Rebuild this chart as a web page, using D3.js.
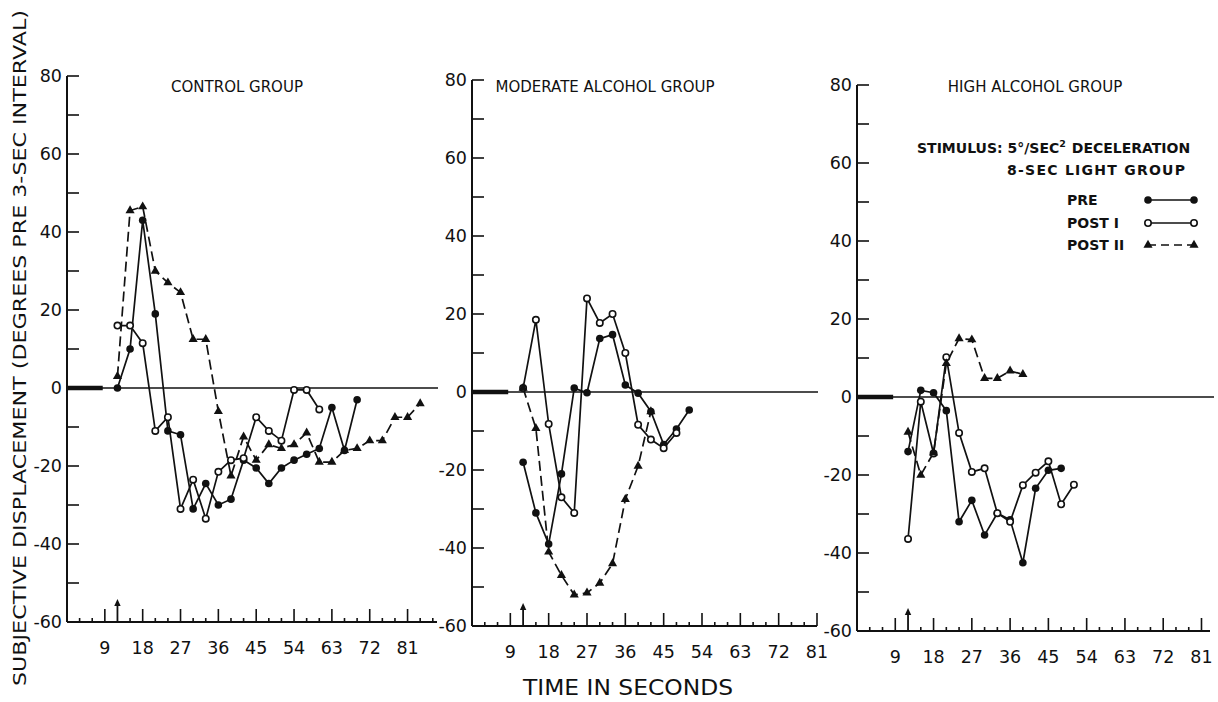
<!DOCTYPE html>
<html>
<head>
<meta charset="utf-8">
<script src="https://cdn.jsdelivr.net/npm/d3@7"></script>
<style>
  body { margin: 0; background: #fff; }
  svg { display: block; }
</style>
</head>
<body>
<svg id="chart" width="1218" height="702"></svg>
<script>
// ---- data -------------------------------------------------------------
const groupTitles = ["CONTROL GROUP", "MODERATE ALCOHOL GROUP", "HIGH ALCOHOL GROUP"];
const seriesNames = ["PRE", "POST I", "POST II"];
const timeTickLabels = [9, 18, 27, 36, 45, 54, 63, 72, 81];
const valueTickLabels = [-60, -40, -20, 0, 20, 40, 60, 80];
const stimulusOnset = 12;          // seconds, arrow on the time axis
const baselineEnd = 8.5;           // seconds of the pre-stimulus baseline
// sampling instants (3-sec intervals after onset)
const sampleTimes = [12, 15, 18, 21, 24, 27, 30, 33, 36, 39, 42, 45, 48, 51, 54,
                     57, 60, 63, 66, 69, 72, 75, 78, 81, 84];

// control group (degrees)
const controlPre   = [0, 10, 43, 19, -11, -12, -31, -24.5, -30, -28.5, -18.5, -20.5,
                      -24.5, -20.5, -18.5, -17, -15.5, -5, -16, -3];
const controlPost1 = [16, 16, 11.5, -11, -7.5, -31, -23.5, -33.5, -21.5, -18.5, -18,
                      -7.5, -11, -13.5, -0.5, -0.5, -5.5];
const controlPost2 = [3, 45.5, 46.5, 30, 27, 24.5, 12.5, 12.5, -6, -22.5, -12.5, -18.5,
                      -14.5, -15.5, -14.5, -11.5, -19, -19, -16, -15.5, -13.5, -13.5,
                      -7.5, -7.5, -4];

// moderate alcohol group
const moderatePre   = [-18, -31, -39, -21, 1, -0.2, 13.7, 14.7, 1.8, -0.3, -5, -13.5, -9.5, -4.6];
const moderatePost1 = [1, 18.5, -8.2, -27, -31, 24, 17.7, 20, 10, -8.4, -12.2, -14.4, -10.5];
const moderatePost2 = [1, -9.3, -41, -47, -52, -51.5, -49, -44, -27.5, -19, -5];

// high alcohol group
const highPre   = [-14, 1.7, 1.1, -3.5, -32, -26.5, -35.4, -29.8, -31.5, -42.5, -23.4, -18.8, -18.3];
const highPost1 = [-36.4, -1.2, -14.5, 10.2, -9.2, -19.2, -18.3, -29.8, -32, -22.6, -19.4,
                   -16.5, -27.5, -22.5];
const highPost2 = [-9, -20, -14.3, 8.6, 15, 14.7, 4.8, 4.8, 6.7, 5.8];

// ---- layout -----------------------------------------------------------
const groups = [
  { title: groupTitles[0], series: [controlPre, controlPost1, controlPost2],
    left: 67, right: 437, tEnd: 88, top: 76, bottom: 622 },
  { title: groupTitles[1], series: [moderatePre, moderatePost1, moderatePost2],
    left: 472, right: 817, tEnd: 81, top: 80, bottom: 626 },
  { title: groupTitles[2], series: [highPre, highPost1, highPost2],
    left: 857, right: 1210, tEnd: 83, top: 85, bottom: 631 }
];
const titleCenters = [237, 605, 1035];

const FONT = "'DejaVu Sans', 'Liberation Sans', Arial, sans-serif";
const INK = "#111";
const LW = 1.7;

const svg = d3.select("#chart");

// marker drawing helpers
function drawMarker(sel, kind, cx, cy) {
  if (kind === 0) {
    sel.append("circle").attr("cx", cx).attr("cy", cy).attr("r", 3.8).attr("fill", INK);
  } else if (kind === 1) {
    sel.append("circle").attr("cx", cx).attr("cy", cy).attr("r", 3.2)
      .attr("fill", "#fff").attr("stroke", INK).attr("stroke-width", 1.6);
  } else {
    sel.append("path").attr("d", d3.symbol(d3.symbolTriangle).size(36)())
      .attr("transform", `translate(${cx},${cy})`).attr("fill", INK);
  }
}

groups.forEach((g, gi) => {
  const x = d3.scaleLinear().domain([0, g.tEnd]).range([g.left, g.right]);
  const y = d3.scaleLinear().domain([-60, 80]).range([g.bottom, g.top]);
  const p = svg.append("g").attr("class", "panel");

  // vertical axis with inward ticks every 10 degrees
  p.append("line").attr("x1", g.left).attr("x2", g.left)
    .attr("y1", y(80)).attr("y2", y(-60)).attr("stroke", INK).attr("stroke-width", 2);
  d3.range(-60, 81, 10).forEach(v => {
    p.append("line").attr("x1", g.left).attr("x2", g.left + 12)
      .attr("y1", y(v)).attr("y2", y(v)).attr("stroke", INK).attr("stroke-width", 1.6);
  });
  valueTickLabels.forEach(v => {
    p.append("text").attr("x", g.left - 5).attr("y", y(v) + 6)
      .attr("text-anchor", "end").attr("font-family", FONT).attr("font-size", 17.5)
      .attr("fill", INK).text(v);
  });

  // time axis along the -60 line
  p.append("line").attr("x1", g.left).attr("x2", g.right)
    .attr("y1", y(-60)).attr("y2", y(-60)).attr("stroke", INK).attr("stroke-width", 2);
  d3.range(3, g.tEnd + 0.01, 3).forEach(t => {
    if (t === stimulusOnset) return;
    const h = (t % 9 === 0) ? 13 : 4;
    p.append("line").attr("x1", x(t)).attr("x2", x(t))
      .attr("y1", y(-60)).attr("y2", y(-60) - h).attr("stroke", INK).attr("stroke-width", 1.6);
  });
  timeTickLabels.forEach(t => {
    p.append("text").attr("x", x(t)).attr("y", y(-60) + 32)
      .attr("text-anchor", "middle").attr("font-family", FONT).attr("font-size", 17.5)
      .attr("fill", INK).text(t);
  });
  // stimulus onset arrow
  const ax = x(stimulusOnset), ay = y(-60);
  p.append("line").attr("x1", ax).attr("x2", ax).attr("y1", ay).attr("y2", ay - 19)
    .attr("stroke", INK).attr("stroke-width", 1.8);
  p.append("path").attr("d", `M${ax - 3.2},${ay - 16} L${ax},${ay - 23} L${ax + 3.2},${ay - 16} Z`)
    .attr("fill", INK);

  // zero reference line and thick pre-stimulus baseline
  p.append("line").attr("x1", g.left).attr("x2", gi === 2 ? 1214 : g.right + 1)
    .attr("y1", y(0)).attr("y2", y(0)).attr("stroke", INK).attr("stroke-width", 1.6);
  p.append("line").attr("x1", g.left).attr("x2", x(baselineEnd))
    .attr("y1", y(0)).attr("y2", y(0)).attr("stroke", INK).attr("stroke-width", 4.5);

  // panel title
  p.append("text").attr("x", titleCenters[gi]).attr("y", 92)
    .attr("text-anchor", "middle").attr("font-family", FONT).attr("font-size", 15)
    .attr("fill", INK).text(g.title);

  // series: PRE, POST I (solid), POST II (dashed)
  const line = d3.line().x(d => x(d.t)).y(d => y(d.v));
  g.series.forEach((vals, si) => {
    const pts = vals.map((v, i) => ({ t: sampleTimes[i], v }));
    p.append("path").datum(pts).attr("d", line).attr("fill", "none")
      .attr("stroke", INK).attr("stroke-width", LW)
      .attr("stroke-dasharray", si === 2 ? "10,5" : null);
  });
  g.series.forEach((vals, si) => {
    vals.forEach((v, i) => drawMarker(p, si, x(sampleTimes[i]), y(v)));
  });
});

// ---- legend (high alcohol panel) -----------------------------------------
const lg = svg.append("g").attr("font-family", FONT).attr("font-weight", "bold")
  .attr("font-size", 14).attr("fill", INK);
const s1 = lg.append("text").attr("x", 917).attr("y", 153);
s1.append("tspan").text("STIMULUS: 5°/SEC");
s1.append("tspan").attr("font-size", 9.5).attr("dy", -6).text("2");
s1.append("tspan").attr("dy", 6).attr("dx", 1).text(" DECELERATION");
lg.append("text").attr("x", 1007).attr("y", 175)
  .attr("textLength", 178).attr("lengthAdjust", "spacing").text("8-SEC LIGHT GROUP");
const legendRows = [205, 228, 250];
seriesNames.forEach((name, si) => {
  const ry = legendRows[si];
  lg.append("text").attr("x", 1067).attr("y", ry).text(name);
  lg.append("line").attr("x1", 1148).attr("x2", 1194).attr("y1", ry - 5).attr("y2", ry - 5)
    .attr("stroke", INK).attr("stroke-width", LW)
    .attr("stroke-dasharray", si === 2 ? "8,5" : null);
  drawMarker(lg, si, 1148, ry - 5);
  drawMarker(lg, si, 1194, ry - 5);
});

// ---- axis titles --------------------------------------------------------
svg.append("text")
  .attr("transform", "translate(26,348) rotate(-90)")
  .attr("text-anchor", "middle").attr("font-family", FONT).attr("font-size", 18)
  .attr("fill", INK).attr("textLength", 676).attr("lengthAdjust", "spacingAndGlyphs")
  .text("SUBJECTIVE DISPLACEMENT (DEGREES PRE 3-SEC INTERVAL)");
svg.append("text")
  .attr("x", 628).attr("y", 695)
  .attr("text-anchor", "middle").attr("font-family", FONT).attr("font-size", 21)
  .attr("fill", INK).attr("textLength", 210).attr("lengthAdjust", "spacingAndGlyphs")
  .text("TIME IN SECONDS");
</script>
</body>
</html>
